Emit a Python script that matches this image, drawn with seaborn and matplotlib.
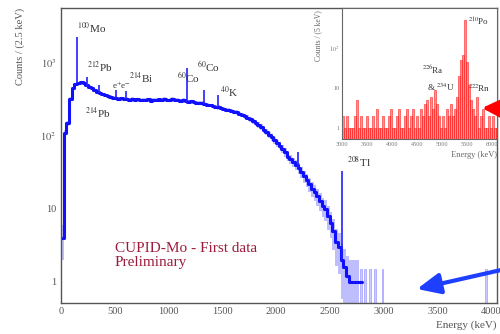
import numpy as np
import pandas as pd
import matplotlib
matplotlib.use("Agg")
import matplotlib.pyplot as plt
from matplotlib.patches import FancyArrowPatch
from matplotlib.ticker import FixedLocator, MultipleLocator, NullFormatter
import seaborn as sns

# --- main spectrum, 25 keV steps (counts / 2.5 keV) ---
bin_width = 25
counts = [4, 110, 150, 320, 450, 510, 530, 545, 535, 505,
          475, 450, 425, 405, 390, 372, 360, 348, 342, 335,
          330, 322, 328, 318, 325, 315, 320, 312, 318, 308,
          315, 310, 318, 306, 314, 309, 316, 311, 319, 308,
          315, 320, 310, 314, 305, 309, 300, 296, 298, 290,
          287, 282, 280, 272, 268, 262, 258, 250, 246, 240,
          236, 230, 226, 220, 214, 210, 200, 194, 186, 178,
          170, 160, 150, 142, 134, 122, 114, 104, 96, 88,
          80, 74, 66, 60, 52, 48, 44, 40, 36, 32,
          28, 25, 22, 19, 17, 15, 13, 11, 10, 8,
          6.5, 5, 3.5, 3, 2, 1.6, 1.2, 1, 1, 1,
          1, 1]

# single counts above the end point
tail_E = [2790, 2830, 2870, 2920, 2990, 3950]
tail_counts = [1, 1, 1, 1, 1, 1]

# gamma lines: energy, top of the spike, continuum below it
peak_E = [152, 245, 352, 511, 609, 1173, 1332, 1461, 2204, 2615]
peak_top = [2270, 650, 500, 425, 415, 850, 425, 365, 60, 33]
peak_base = [530, 475, 390, 330, 325, 296, 272, 246, 36, 2]

peak_labels = [r"$^{100}$Mo", r"$^{212}$Pb", r"e$^{+}$e$^{-}$", r"$^{214}$Bi",
               r"$^{214}$Pb", r"$^{60}$Co", r"$^{60}$Co", r"$^{40}$K", r"$^{208}$Tl"]
label_E = [150, 242, 470, 630, 223, 1080, 1265, 1479, 2660]
label_c = [3000, 880, 500, 620, 206, 640, 880, 400, 43]
label_size = [8, 8, 6.5, 8, 8, 8, 8, 8, 8]

# --- alpha region (inset), 40 keV steps, counts / 5 keV ---
ins_width = 40
ins_start = 3000
ins_counts = [2, 1, 2, 1, 1, 1, 2, 5, 1, 2,
              1, 1, 2, 1, 1, 2, 1, 3, 1, 1,
              2, 1, 1, 2, 3, 1, 1, 2, 3, 1,
              1, 2, 3, 1, 2, 3, 1, 2, 1, 3,
              2, 4, 5, 2, 6, 3, 9, 4, 2, 1,
              2, 1, 3, 2, 4, 2, 3, 6, 20, 50,
              65, 500, 45, 12, 5, 3, 2, 6, 1, 2,
              3, 1, 1, 2, 1, 2, 1, 1]
ins_labels = [r"$^{210}$Po", r"$^{226}$Ra", r"& $^{234}$U", r"$^{222}$Rn"]
ins_label_E = [5520, 4600, 4700, 5520]
ins_label_c = [450, 28, 10.6, 10]

sns.set_theme(style="white")
plt.rcParams["font.family"] = ["Liberation Serif", "DejaVu Serif"]
plt.rcParams["mathtext.fontset"] = "stix"

fig = plt.figure(figsize=(5, 3.34), dpi=100)
ax = fig.add_axes([0.122, 0.0928, 0.872, 0.8832])

edges = np.arange(len(counts) + 1) * bin_width
main = pd.DataFrame({"energy": edges[:-1] + bin_width / 2, "counts": counts})
c = main["counts"].to_numpy(dtype=float)
err = np.sqrt(c)
lo = np.clip(c - err, 0.52, None)
hi = c + err

ax.fill_between(edges[:-1], lo, hi, step="post", color="#7f7fff", alpha=0.5, lw=0)
sns.histplot(data=main, x="energy", weights="counts", bins=list(edges),
             element="step", fill=False, color="#1010ff", linewidth=2.2, ax=ax)
ax.vlines(peak_E, peak_base, peak_top, color="#2020ff", lw=1.2)
ax.bar(tail_E, tail_counts, width=18, bottom=0.52, color="#9999ff", alpha=0.5,
       edgecolor="#7070ff", lw=0.6)

ax.set_yscale("log")
ax.set_xlim(0, 4055)
ax.set_ylim(0.515, 5660)

for lab, ex, cy, fs in zip(peak_labels, label_E, label_c, label_size):
    ax.text(ex, cy, lab, fontsize=fs, color="#333333", va="center", ha="left")

ax.text(502, 2.83, "CUPID-Mo - First data", fontsize=11, color="#9b1c3c", va="center")
ax.text(502, 1.85, "Preliminary", fontsize=11, color="#9b1c3c", va="center")

ax.xaxis.set_major_locator(MultipleLocator(500))
ax.xaxis.set_minor_locator(MultipleLocator(100))
ax.yaxis.set_major_locator(FixedLocator([1, 10, 100, 1000]))
ax.set_yticklabels(["1", "10", r"$10^{2}$", r"$10^{3}$"])
ax.yaxis.set_minor_locator(FixedLocator([m * 10 ** d for d in range(-1, 4) for m in range(2, 10)]))
ax.yaxis.set_minor_formatter(NullFormatter())
ax.tick_params(axis="both", which="major", direction="in", length=8, width=0.8,
               labelsize=7.5, labelcolor="#555555", color="#444444")
ax.tick_params(axis="both", which="minor", direction="in", length=4, width=0.7, color="#444444")
ax.tick_params(axis="x", which="major", color="#bbbbbb", pad=3)

for s in ax.spines.values():
    s.set_color("#555555")
    s.set_linewidth(1.0)

ax.set_ylabel("Counts / (2.5 keV)", loc="top", fontsize=7.5, color="#555555")
ax.yaxis.set_label_coords(-0.083, 1.0)
ax.set_xlabel("Energy (keV)", loc="right", fontsize=8, color="#555555")
ax.xaxis.set_label_coords(1.0, -0.06)

# --- inset ---
axin = fig.add_axes([0.684, 0.584, 0.31, 0.392])
ins_edges = ins_start + np.arange(len(ins_counts) + 1) * ins_width
alpha_df = pd.DataFrame({"energy": ins_edges[:-1] + ins_width / 2, "counts": ins_counts})
sns.histplot(data=alpha_df, x="energy", weights="counts", bins=list(ins_edges),
             element="bars", color="#ff1010", alpha=0.45, edgecolor="#ff2020",
             linewidth=0.4, ax=axin)
axin.set_yscale("log")
axin.set_xlim(3000, 6100)
axin.set_ylim(0.53, 1000)
axin.set_facecolor("white")

for lab, ex, cy in zip(ins_labels, ins_label_E, ins_label_c):
    axin.text(ex, cy, lab, fontsize=6.5, color="#333333", va="center", ha="left")

axin.xaxis.set_major_locator(MultipleLocator(500))
axin.xaxis.set_minor_locator(MultipleLocator(100))
axin.yaxis.set_major_locator(FixedLocator([1, 10, 100]))
axin.set_yticklabels(["1", "10", r"$10^{2}$"])
axin.yaxis.set_minor_formatter(NullFormatter())
axin.tick_params(axis="both", which="major", direction="in", length=4, width=0.6,
                 labelsize=4.5, labelcolor="#777777", color="#666666", pad=2)
axin.tick_params(axis="both", which="minor", direction="in", length=2, width=0.5, color="#666666")
for s in axin.spines.values():
    s.set_color("#666666")
    s.set_linewidth(0.8)
axin.set_ylabel("Counts / (5 keV)", loc="top", fontsize=5.5, color="#666666")
axin.yaxis.set_label_coords(-0.13, 0.985)
axin.set_xlabel("Energy (keV)", loc="right", fontsize=6, color="#666666")
axin.xaxis.set_label_coords(1.0, -0.09)

# arrows on top of everything (figure pixel positions, origin bottom left)
W, H = 500, 334
blue = FancyArrowPatch((510 / W, 66 / H), (417 / W, 45 / H), transform=fig.transFigure,
                       arrowstyle="-|>,head_length=1.0,head_width=0.45",
                       mutation_scale=14, lw=3, color="#1f3fff", zorder=10,
                       shrinkA=0, shrinkB=0)
red = FancyArrowPatch((515 / W, 225 / H), (482 / W, 226 / H), transform=fig.transFigure,
                      arrowstyle="-|>,head_length=1.0,head_width=0.5",
                      mutation_scale=13, lw=3, color="#ff0000", zorder=10,
                      shrinkA=0, shrinkB=0)
fig.add_artist(blue)
fig.add_artist(red)

fig.savefig("out.png", dpi=100)
